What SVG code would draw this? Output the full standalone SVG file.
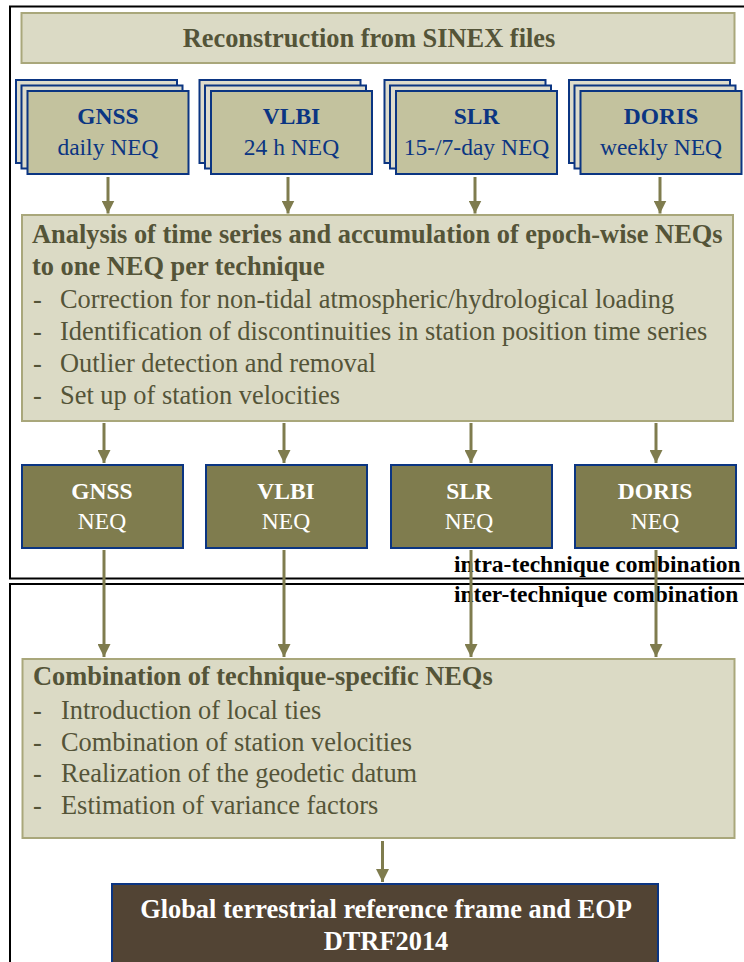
<svg xmlns="http://www.w3.org/2000/svg" width="744" height="962" viewBox="0 0 744 962">
<defs>
<style>
text{font-family:"Liberation Serif","Times New Roman",serif;}
.frame{fill:none;stroke:#000;stroke-width:2;}
.light{fill:#dbdac5;stroke:#a9a77b;stroke-width:2;}
.back{fill:#dedccb;stroke:#0b3582;stroke-width:2;}
.front{fill:#c3c29e;stroke:#0b3582;stroke-width:2;}
.neq{fill:#7f7c4e;stroke:#0b3582;stroke-width:2;}
.final{fill:#524434;stroke:#0b3582;stroke-width:2;}
.hd{font-size:26.4px;font-weight:bold;fill:#545438;}
.body{font-size:26.4px;fill:#545438;}
.tb{font-size:23.5px;font-weight:bold;fill:#0b3582;text-anchor:middle;}
.tr{font-size:23.5px;fill:#0b3582;text-anchor:middle;}
.wb{font-size:23.5px;font-weight:bold;fill:#fff;text-anchor:middle;}
.wr{font-size:23.5px;fill:#fff;text-anchor:middle;}
.lbl{font-size:23.5px;font-weight:bold;fill:#000;}
.fin{font-size:26.4px;font-weight:bold;fill:#fff;text-anchor:middle;}
.arr{stroke:#7f7c4e;stroke-width:3;fill:none;marker-end:url(#ah);}
</style>
<marker id="ah" markerUnits="userSpaceOnUse" markerWidth="13" markerHeight="13" refX="13" refY="6.5" orient="auto" viewBox="0 0 13 13">
<path d="M0,0 L13,6.5 L0,13 Z" fill="#7f7c4e"/>
</marker>
</defs>
<g id="frames">
<rect class="frame" x="10" y="6.5" width="760" height="572"/>
<rect class="frame" x="10" y="584" width="760" height="400"/>
</g>
<g id="reconstruction">
<rect class="light" x="21.5" y="13" width="713" height="50"/>
<text class="hd" x="369" y="46.5" text-anchor="middle">Reconstruction from SINEX files</text>
</g>
<g id="gnss-daily">
<rect class="back" x="16" y="80" width="161" height="83"/>
<rect class="back" x="21.5" y="85.5" width="161" height="83"/>
<rect class="front" x="27.5" y="91" width="161" height="83"/>
<text class="tb" x="108" y="124">GNSS</text>
<text class="tr" x="108" y="155">daily NEQ</text>
</g>
<g id="vlbi-24h">
<rect class="back" x="199.5" y="80" width="161" height="83"/>
<rect class="back" x="205" y="85.5" width="161" height="83"/>
<rect class="front" x="211" y="91" width="161" height="83"/>
<text class="tb" x="291.5" y="124">VLBI</text>
<text class="tr" x="291.5" y="155">24 h NEQ</text>
</g>
<g id="slr-15-7day">
<rect class="back" x="384.5" y="80" width="161" height="83"/>
<rect class="back" x="390" y="85.5" width="161" height="83"/>
<rect class="front" x="396" y="91" width="161" height="83"/>
<text class="tb" x="476.5" y="124">SLR</text>
<text class="tr" x="476.5" y="155">15-/7-day NEQ</text>
</g>
<g id="doris-weekly">
<rect class="back" x="569" y="80" width="161" height="83"/>
<rect class="back" x="574.5" y="85.5" width="161" height="83"/>
<rect class="front" x="580.5" y="91" width="161" height="83"/>
<text class="tb" x="661" y="124">DORIS</text>
<text class="tr" x="661" y="155">weekly NEQ</text>
</g>
<g id="analysis">
<rect class="light" x="22" y="215" width="711" height="206"/>
<text class="hd" x="32" y="243">Analysis of time series and accumulation of epoch-wise NEQs</text>
<text class="hd" x="32" y="275">to one NEQ per technique</text>
<text class="body" x="33" y="308">-</text><text class="body" x="60" y="308">Correction for non-tidal atmospheric/hydrological loading</text>
<text class="body" x="33" y="340">-</text><text class="body" x="60" y="340">Identification of discontinuities in station position time series</text>
<text class="body" x="33" y="372">-</text><text class="body" x="60" y="372">Outlier detection and removal</text>
<text class="body" x="33" y="404">-</text><text class="body" x="60" y="404">Set up of station velocities</text>
</g>
<g id="gnss-neq">
<rect class="neq" x="22" y="465" width="161" height="83"/>
<text class="wb" x="102" y="499">GNSS</text>
<text class="wr" x="102" y="529">NEQ</text>
</g>
<g id="vlbi-neq">
<rect class="neq" x="206" y="465" width="161" height="83"/>
<text class="wb" x="286" y="499">VLBI</text>
<text class="wr" x="286" y="529">NEQ</text>
</g>
<g id="slr-neq">
<rect class="neq" x="391" y="465" width="161" height="83"/>
<text class="wb" x="469" y="499">SLR</text>
<text class="wr" x="469" y="529">NEQ</text>
</g>
<g id="doris-neq">
<rect class="neq" x="575" y="465" width="161" height="83"/>
<text class="wb" x="655" y="499">DORIS</text>
<text class="wr" x="655" y="529">NEQ</text>
</g>
<g id="combination">
<rect class="light" x="22.5" y="659" width="712" height="179"/>
<text class="hd" x="33" y="685">Combination of technique-specific NEQs</text>
<text class="body" x="33" y="719">-</text><text class="body" x="61" y="719">Introduction of local ties</text>
<text class="body" x="33" y="750.5">-</text><text class="body" x="61" y="750.5">Combination of station velocities</text>
<text class="body" x="33" y="782">-</text><text class="body" x="61" y="782">Realization of the geodetic datum</text>
<text class="body" x="33" y="813.5">-</text><text class="body" x="61" y="813.5">Estimation of variance factors</text>
</g>
<g id="dtrf2014">
<rect class="final" x="112" y="884" width="546" height="90"/>
<text class="fin" x="386" y="917.5">Global terrestrial reference frame and EOP</text>
<text class="fin" x="386" y="949.5">DTRF2014</text>
</g>
<g id="labels">
<text class="lbl" x="454" y="572">intra-technique combination</text>
<text class="lbl" x="454" y="602">inter-technique combination</text>
</g>
<g id="connectors">
<line class="arr" x1="108" y1="177" x2="108" y2="213.5"/>
<line class="arr" x1="288" y1="177" x2="288" y2="213.5"/>
<line class="arr" x1="475" y1="177" x2="475" y2="213.5"/>
<line class="arr" x1="660" y1="177" x2="660" y2="213.5"/>
<line class="arr" x1="104" y1="423" x2="104" y2="463"/>
<line class="arr" x1="284" y1="423" x2="284" y2="463"/>
<line class="arr" x1="471" y1="423" x2="471" y2="463"/>
<line class="arr" x1="656" y1="423" x2="656" y2="463"/>
<line class="arr" x1="104" y1="550" x2="104" y2="657"/>
<line class="arr" x1="284" y1="550" x2="284" y2="657"/>
<line class="arr" x1="471" y1="550" x2="471" y2="657"/>
<line class="arr" x1="656" y1="550" x2="656" y2="657"/>
<line class="arr" x1="382.5" y1="841" x2="382.5" y2="882"/>
</g>
</svg>
